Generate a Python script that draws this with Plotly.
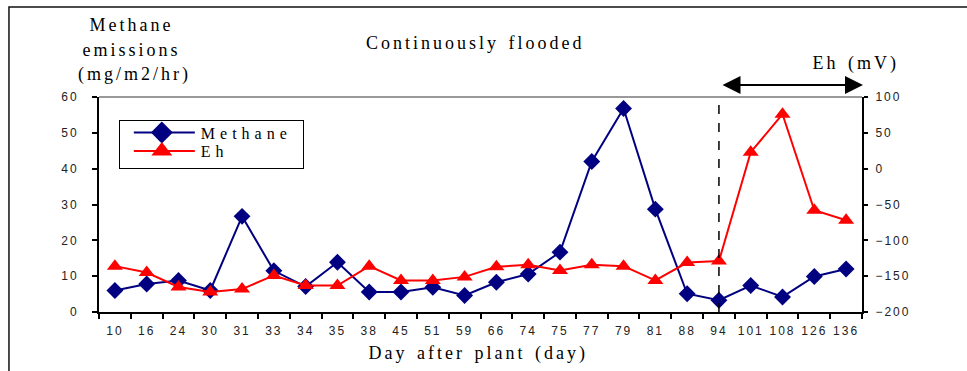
import plotly.graph_objects as go

days = ["10", "16", "24", "30", "31", "33", "34", "35", "38", "45", "51", "59",
        "66", "74", "75", "77", "79", "81", "88", "94", "101", "108", "126", "136"]
methane = [6.0, 7.8, 8.8, 6.0, 26.7, 11.5, 7.1, 13.9, 5.6, 5.6, 6.9, 4.6,
           8.3, 10.6, 16.7, 42.0, 56.8, 28.7, 5.1, 3.3, 7.4, 4.2, 9.9, 12.0]
eh = [-136, -145, -165, -172, -168, -149, -163, -163, -136, -156, -156, -151,
      -137, -134, -142, -134, -136, -156, -131, -129, 23, 76, -58, -72]
left_ticks = [0, 10, 20, 30, 40, 50, 60]
right_ticks = [-200, -150, -100, -50, 0, 50, 100]
marker_day = "94"

SERIF = "Liberation Serif"
SANS = "Liberation Sans"
NAVY = "#000080"
RED = "#FF0000"

marker_idx = days.index(marker_day)

fig = go.Figure()
fig.add_trace(go.Scatter(
    x=days, y=methane, name="Methane", mode="lines+markers",
    line=dict(color=NAVY, width=2),
    marker=dict(symbol="diamond", size=13, color=NAVY),
))
fig.add_trace(go.Scatter(
    x=days, y=eh, name="Eh", mode="lines+markers", yaxis="y2",
    line=dict(color=RED, width=2),
    marker=dict(symbol="triangle-up", size=14, color=RED),
))

fig.update_layout(
    width=967, height=371,
    margin=dict(l=99, r=105, t=97, b=59),
    paper_bgcolor="white", plot_bgcolor="white",
    showlegend=True,
    legend=dict(
        x=0.026, y=0.893, xanchor="left", yanchor="top",
        bgcolor="white", bordercolor="black", borderwidth=1,
        font=dict(family=SERIF, size=16, color="black"),
        tracegroupgap=0, itemwidth=30,
    ),
    xaxis=dict(
        type="category", categoryorder="array", categoryarray=days,
        range=[-0.5, len(days) - 0.5], tickangle=0,
        showline=True, linecolor="black", linewidth=2,
        ticks="outside", tickson="boundaries", ticklen=5, tickcolor="black",
        tickwidth=1.5,
        tickfont=dict(family=SANS, size=12, color="#222"),
        ticklabelstandoff=7,
        showgrid=False, zeroline=False,
    ),
    yaxis=dict(
        range=[0, 60], tickvals=left_ticks,
        showline=True, linecolor="black", linewidth=2,
        ticks="outside", ticklen=5, tickcolor="black", tickwidth=1.5,
        tickfont=dict(family=SANS, size=12, color="#222"),
        ticklabelstandoff=11,
        showgrid=False, zeroline=False,
    ),
    yaxis2=dict(
        range=[-200, 100], tickvals=right_ticks, overlaying="y", side="right",
        showline=True, linecolor="black", linewidth=2,
        ticks="outside", ticklen=4, tickcolor="black", tickwidth=1.5,
        tickfont=dict(family=SANS, size=12, color="#222"),
        ticklabelstandoff=5,
        showgrid=False, zeroline=False,
    ),
    shapes=[
        dict(type="rect", xref="paper", yref="paper", x0=-0.118, x1=1.3,
             y0=-0.6, y1=1.4186, line=dict(color="#111", width=1.5),
             layer="below"),
        dict(type="line", xref="paper", yref="paper", x0=0, x1=1, y0=1, y1=1,
             line=dict(color="#999", width=2)),
        dict(type="line", xref="x", yref="paper", x0=marker_idx, x1=marker_idx,
             y0=0, y1=1, line=dict(color="black", width=1.5, dash="dash")),
    ],
)

annots = [
    dict(text="Methane", x=0.043, y=1.335),
    dict(text="emissions", x=0.043, y=1.218),
    dict(text="(mg/m2/hr)", x=0.046, y=1.103),
    dict(text="Continuously flooded", x=0.493, y=1.251),
    dict(text="Eh (mV)", x=0.992, y=1.158),
    dict(text="Day after plant (day)", x=0.497, y=-0.195),
]
for a in annots:
    fig.add_annotation(xref="paper", yref="paper", showarrow=False,
                       xanchor="center", yanchor="middle",
                       font=dict(family=SERIF, size=18, color="black"), **a)

fig.add_annotation(
    xref="paper", yref="paper", x=1.0013, y=1.056, ax=-142, ay=0,
    text="", showarrow=True, arrowhead=2, startarrowhead=2,
    arrowside="end+start", arrowwidth=2, arrowsize=1.8, startarrowsize=1.8,
    arrowcolor="black",
)

post = """
var gd = document.getElementById('{plot_id}');
function restyleText(){
  gd.querySelectorAll('.xtick text, .ytick text, .y2tick text').forEach(function(t){ t.style.letterSpacing='2px'; });
  gd.querySelectorAll('.annotation-text').forEach(function(t){ t.style.letterSpacing='3px'; t.style.wordSpacing='2px'; });
  gd.querySelectorAll('.legendtext').forEach(function(t){ t.style.letterSpacing='5px'; t.style.wordSpacing='2px'; });
  var leg = gd.querySelector('.legend');
  if (!leg) return;
  var rows = [12.5, 31];
  leg.querySelectorAll('.traces').forEach(function(tr, i){
    tr.setAttribute('transform', 'translate(0,' + rows[i] + ')');
    tr.querySelectorAll('.legendlines path').forEach(function(p){ p.setAttribute('d', 'M15,0h61'); });
    tr.querySelectorAll('.legendpoints path').forEach(function(p){ p.setAttribute('transform', 'translate(43,0) scale(1.3)'); });
    var tx = tr.querySelector('.legendtext');
    if (tx) { tx.setAttribute('x', 82); }
  });
  var bg = leg.querySelector('rect.bg');
  if (bg) { bg.setAttribute('width', 184); bg.setAttribute('height', 48); }
  gd.querySelectorAll('clipPath[id^="legend"] rect').forEach(function(r){ r.setAttribute('width', 184); r.setAttribute('height', 48); });
}
restyleText();
"""
fig.write_html("out.html", post_script=post)
